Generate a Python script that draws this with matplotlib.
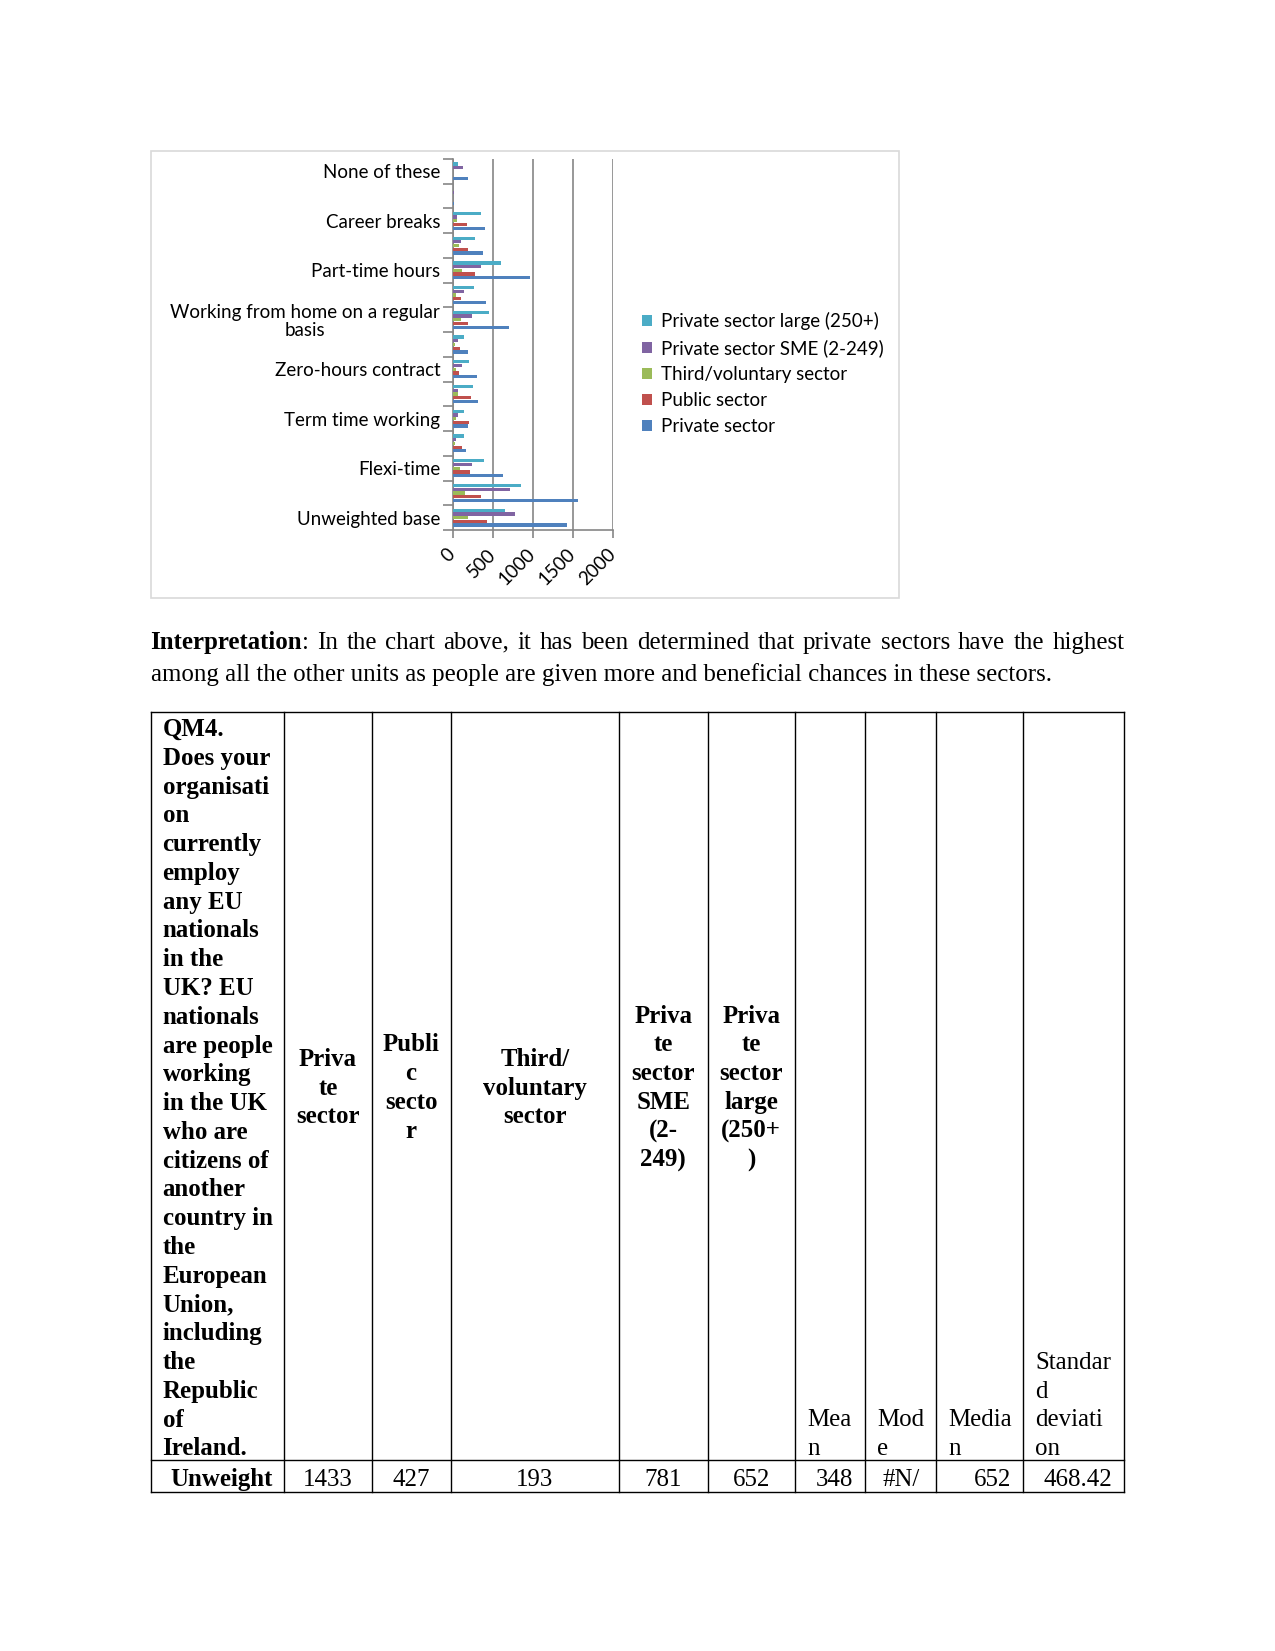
import numpy as np
import matplotlib.pyplot as plt
from matplotlib.patches import Rectangle

# chart data (bottom category first, as in the spreadsheet)
categories = ['Unweighted base', 'Weighted base', 'Flexi-time', 'Compressed hours',
              'Term time working', 'Job share', 'Zero-hours contract', 'Annualised hours',
              'Working from home on a regular\nbasis', 'Mobile working', 'Part-time hours',
              'Sabbaticals', 'Career breaks', "Don't know", 'None of these']
private = [1433, 1567, 629, 167, 192, 317, 304, 192, 704, 417, 967, 379, 404, 10, 192]
public = [427, 354, 217, 117, 204, 229, 79, 92, 192, 104, 279, 192, 179, 8, 8]
third = [193, 154, 92, 25, 37, 62, 37, 25, 104, 37, 112, 79, 50, 8, 8]
sme = [781, 717, 242, 37, 67, 62, 117, 67, 242, 142, 354, 104, 54, 12, 129]
large = [652, 854, 392, 142, 142, 254, 204, 142, 454, 267, 604, 279, 354, 8, 67]
series_names = ['Private sector', 'Public sector', 'Third/voluntary sector',
                'Private sector SME (2-249)', 'Private sector large (250+)']
series_colors = ['#4F81BD', '#C0504D', '#9BBB59', '#8064A2', '#4BACC6']
x_ticks = [0, 500, 1000, 1500, 2000]

# table data
table_header = [
    ['QM4.', 'Does your', 'organisati', 'on', 'currently', 'employ', 'any EU', 'nationals',
     'in the', 'UK? EU', 'nationals', 'are people', 'working', 'in the UK', 'who are',
     'citizens of', 'another', 'country in', 'the', 'European', 'Union,', 'including',
     'the', 'Republic', 'of', 'Ireland.'],
    ['Priva', 'te', 'sector'],
    ['Publi', 'c', 'secto', 'r'],
    ['Third/', 'voluntary', 'sector'],
    ['Priva', 'te', 'sector', 'SME', '(2-', '249)'],
    ['Priva', 'te', 'sector', 'large', '(250+', ')'],
    ['Mea', 'n'],
    ['Mod', 'e'],
    ['Media', 'n'],
    ['Standar', 'd', 'deviati', 'on'],
]
table_row = ['Unweight', '1433', '427', '193', '781', '652', '348', '#N/', '652', '468.42']

paragraph = [
    [('Interpretation', 'bold', False), (':', 'normal', False), ('In', 'normal', True),
     ('the', 'normal', True), ('chart', 'normal', True), ('above,', 'normal', True),
     ('it', 'normal', True), ('has', 'normal', True), ('been', 'normal', True),
     ('determined', 'normal', True), ('that', 'normal', True), ('private', 'normal', True),
     ('sectors', 'normal', True), ('have', 'normal', True), ('the', 'normal', True),
     ('highest', 'normal', True)],
]
line2 = 'among all the other units as people are given more and beneficial chances in these sectors.'

W, H = 1275, 1651
fig = plt.figure(figsize=(W / 100, H / 100), dpi=100)
page = fig.add_axes([0, 0, 1, 1])
page.set_xlim(0, W)
page.set_ylim(H, 0)
page.axis('off')

serif = 'Liberation Serif'
fs = 17.95

# chart frame
page.add_patch(Rectangle((150.6, 150.6), 899.1 - 150.6, 598 - 150.6, fill=False,
                         ec='#D9D9D9', lw=1.2))

# bar chart
ax = fig.add_axes([452.7 / W, 1 - 530 / H, 160 / W, 371 / H])
y = np.arange(len(categories))
bh = 0.15
all_series = [private, public, third, sme, large]
for i, (vals, name, col) in enumerate(zip(all_series, series_names, series_colors)):
    ax.barh(y + (i - 2) * bh, vals, height=bh * 0.88, color=col, label=name, zorder=3)

ax.set_xlim(0, 2000)
ax.set_ylim(-0.5, len(categories) - 0.5)
ax.set_xticks(x_ticks)
ax.set_xticklabels([str(v) for v in x_ticks], rotation=45, ha='right', va='center',
                   rotation_mode='anchor', family='Lato', fontsize=13.5)
ax.tick_params(axis='x', length=6, width=1.2, color='#868686', pad=9.5)
ax.set_yticks(np.arange(-0.5, len(categories), 1.0))
ax.set_yticklabels([])
ax.tick_params(axis='y', which='major', length=7, width=1.2, color='#868686')
ax.set_yticks(y[::2], minor=True)
ax.set_yticklabels([categories[k] for k in y[::2]], minor=True, family='Lato',
                   fontsize=13.5, linespacing=1.05)
ax.tick_params(axis='y', which='minor', length=0, pad=9)
for lbl in ax.get_yticklabels(minor=True):
    lbl.set_multialignment('center')
ax.grid(axis='x', color='#868686', lw=1.2, zorder=0)
for s in ['top', 'right']:
    ax.spines[s].set_visible(False)
for s in ['left', 'bottom']:
    ax.spines[s].set_color('#868686')
    ax.spines[s].set_linewidth(1.2)

handles, labels = ax.get_legend_handles_labels()
fig.legend(handles[::-1], labels[::-1], loc='center left',
           bbox_to_anchor=(642 / W, 1 - 373.5 / H), frameon=False,
           prop={'family': 'Lato', 'size': 13.5}, handlelength=0.55, handleheight=0.55,
           handletextpad=0.45, labelspacing=0.48, borderpad=0, borderaxespad=0)

# paragraph
renderer = fig.canvas.get_renderer()
x0, x1 = 150.6, 1124.4
base1 = 648.6
texts = []
for tok, wt, sp in paragraph[0]:
    t = page.text(0, base1, tok, family=serif, fontsize=fs, weight=wt, va='baseline', ha='left')
    texts.append((t, sp))
widths = [t.get_window_extent(renderer).width for t, _ in texts]
ngaps = sum(1 for _, sp in texts if sp)
gap = (x1 - x0 - sum(widths)) / ngaps
xc = x0
for (t, sp), w in zip(texts, widths):
    if sp:
        xc += gap
    t.set_x(xc)
    xc += w
page.text(x0, base1 + 32.7, line2, family=serif, fontsize=fs, va='baseline', ha='left')

# table
col_edges = [150.6, 284.3, 371.6, 450.6, 619.0, 707.5, 794.9, 865.4, 936.0, 1023.3, 1124.4]
row_edges = [711.7, 1460.2, 1491.8]
for xe in col_edges:
    page.plot([xe, xe], [row_edges[0], row_edges[-1]], color='black', lw=1.0)
for ye in row_edges:
    page.plot([col_edges[0], col_edges[-1]], [ye, ye], color='black', lw=1.0)

lh = 28.77
pad = 12
for c, lines in enumerate(table_header):
    left, right = col_edges[c], col_edges[c + 1]
    n = len(lines)
    if c == 0:
        ys = [row_edges[0] + 15.8 + k * lh for k in range(n)]
        xs, ha, wt = left + pad, 'left', 'bold'
    elif c <= 5:
        mid = (row_edges[0] + row_edges[1]) / 2
        ys = [mid + (k - (n - 1) / 2) * lh for k in range(n)]
        xs, ha, wt = (left + right) / 2, 'center', 'bold'
    else:
        ys = [row_edges[1] - 13.7 - (n - 1 - k) * lh for k in range(n)]
        xs, ha, wt = left + pad, 'left', 'normal'
    for yy, s in zip(ys, lines):
        page.text(xs, yy + 8.6, s, family=serif, fontsize=fs, weight=wt, ha=ha, va='baseline')

ydat = 1477 + 8.6
for c, s in enumerate(table_row):
    left, right = col_edges[c], col_edges[c + 1]
    if c == 0:
        page.text(222, ydat, s, family=serif, fontsize=fs, weight='bold', ha='center', va='baseline')
    elif c <= 5 or c == 7:
        page.text((left + right) / 2, ydat, s, family=serif, fontsize=fs, ha='center', va='baseline')
    else:
        page.text(right - pad, ydat, s, family=serif, fontsize=fs, ha='right', va='baseline')

fig.savefig('out.png', dpi=100)
